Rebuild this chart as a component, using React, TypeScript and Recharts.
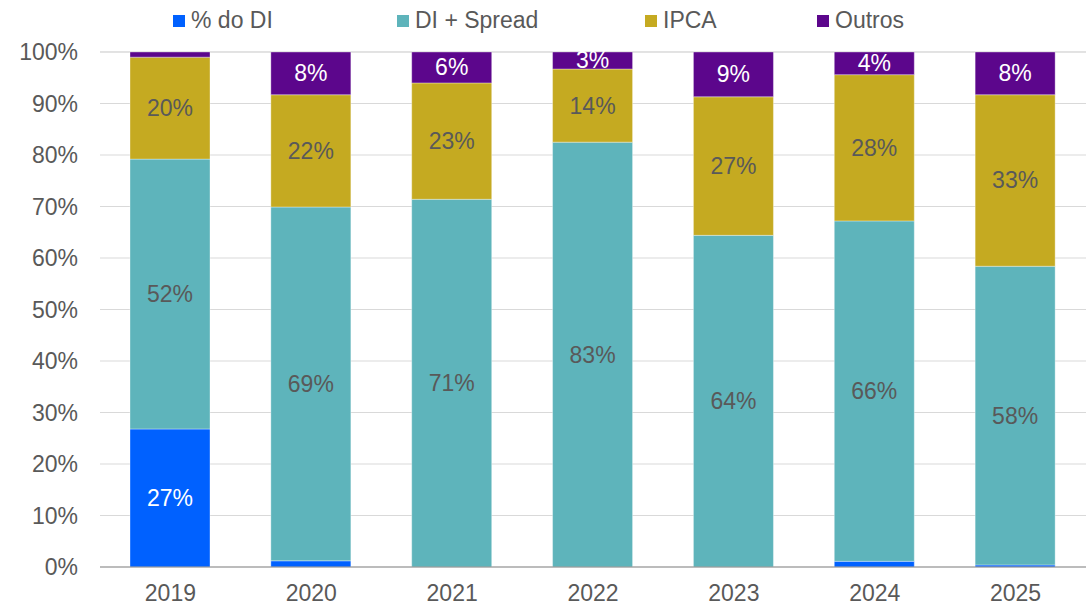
import { BarChart, Bar, XAxis, YAxis, CartesianGrid, LabelList } from "recharts";

const anos = ["2019", "2020", "2021", "2022", "2023", "2024", "2025"];
const percentualDI = [26.8, 1.2, 0, 0, 0, 1.1, 0.4];
const diSpread = [52.4, 68.7, 71.4, 82.5, 64.4, 66.1, 58.0];
const ipca = [19.8, 21.8, 22.6, 14.2, 26.9, 28.4, 33.3];
const outros = [1.0, 8.3, 6.0, 3.3, 8.7, 4.4, 8.3];
const yTicks = [0, 10, 20, 30, 40, 50, 60, 70, 80, 90, 100];

const data = anos.map((ano, i) => ({
  ano,
  pctDI: percentualDI[i],
  diSpread: diSpread[i],
  ipca: ipca[i],
  outros: outros[i],
}));

const SERIES = [
  { key: "pctDI", name: "% do DI", color: "#0061FF", label: "#FFFFFF" },
  { key: "diSpread", name: "DI + Spread", color: "#5EB4BB", label: "#595959" },
  { key: "ipca", name: "IPCA", color: "#C5AA21", label: "#595959" },
  { key: "outros", name: "Outros", color: "#5C068C", label: "#FFFFFF" },
];

const LEGEND_X = [173, 397, 645, 817];
const FONT = "'Liberation Sans', Arial, sans-serif";
const FS = 23;

function makeLabel(fill: string) {
  return (props: any) => {
    const { x, y, width, height, value } = props;
    if (value == null || value < 2) return null;
    return (
      <text
        x={x + width / 2}
        y={y + height / 2}
        fill={fill}
        fontSize={FS}
        fontFamily={FONT}
        textAnchor="middle"
        dominantBaseline="central"
      >
        {Math.round(value)}%
      </text>
    );
  };
}

export default function App() {
  return (
    <div style={{ position: "absolute", left: 0, top: 0, width: 1088, height: 606, background: "#fff" }}>
      {SERIES.map((s, i) => (
        <div
          key={s.key}
          style={{
            position: "absolute",
            left: LEGEND_X[i],
            top: 7,
            display: "flex",
            alignItems: "center",
            fontFamily: FONT,
            fontSize: FS,
            color: "#595959",
            whiteSpace: "nowrap",
          }}
        >
          <span style={{ width: 12, height: 12, background: s.color, marginRight: 6, display: "inline-block" }} />
          {s.name}
        </div>
      ))}
      <BarChart
        width={1088}
        height={606}
        data={data}
        margin={{ top: 52, right: 2, left: 0, bottom: 0 }}
        barSize={80}
      >
        <CartesianGrid vertical={false} stroke="#D9D9D9" />
        <XAxis
          dataKey="ano"
          height={39}
          tickLine={false}
          tickSize={0}
          tickMargin={18}
          axisLine={{ stroke: "#8C8C8C" }}
          tick={{ fontSize: FS, fill: "#595959", fontFamily: FONT }}
        />
        <YAxis
          width={100}
          domain={[0, 100]}
          ticks={yTicks}
          tickFormatter={(v) => `${v}%`}
          axisLine={false}
          tickLine={false}
          tickSize={0}
          tickMargin={22}
          tick={{ fontSize: FS, fill: "#595959", fontFamily: FONT }}
        />
        {SERIES.map((s) => (
          <Bar
            key={s.key}
            dataKey={s.key}
            name={s.name}
            stackId="a"
            fill={s.color}
            stroke="#FFFFFF"
            strokeOpacity={0.35}
            strokeWidth={1}
            isAnimationActive={false}
          >
            <LabelList dataKey={s.key} content={makeLabel(s.label)} />
          </Bar>
        ))}
      </BarChart>
    </div>
  );
}
